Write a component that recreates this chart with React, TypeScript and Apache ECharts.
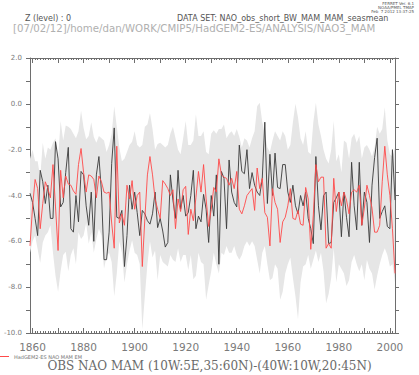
import { useEffect, useRef } from "react";
import * as echarts from "echarts";

const FIRST_YEAR = 1859;

// Observed NAO index (black line), 1859..2002
const obs = [
  -3.9,
  -4.3, -5.0, -5.75, -2.9, -3.4, -4.35, -3.55, -5.0, -5.0, -1.65,
  -2.4, -4.5, -4.3, -3.0, -1.9, -5.45, -5.6, -4.0, -5.15, -2.95,
  -3.1, -4.45, -5.3, -3.85, -6.0, -3.1, -2.3, -3.85, -6.8, -6.8,
  -5.6, -2.6, -1.05, -4.95, -5.0, -4.65, -7.1, -5.75, -3.55, -4.6,
  -3.85, -4.75, -5.75, -4.65, -4.8, -5.1, -5.25, -4.8, -3.85, -5.4,
  -5.0, -5.55, -6.25, -6.05, -3.1, -4.2, -5.0, -2.9, -4.6, -4.0,
  -4.9, -4.75, -4.0, -2.9, -5.45, -4.9, -5.15, -3.95, -4.6, -6.05,
  -4.0, -4.9, -3.1, -7.0, -2.95, -3.25, -5.45, -2.45, -3.85, -4.3,
  -4.5, -1.8, -2.95, -3.05, -2.0, -3.7, -3.0, -3.55, -3.85, -4.0,
  -3.25, -0.8, -4.35, -2.2, -4.0, -2.15, -3.65, -3.7, -2.65, -2.65,
  -3.85, -4.3, -3.55, -4.45, -4.8, -4.0, -4.45, -3.85, -5.0, -5.45,
  -6.1, -2.3, -4.45, -5.5, -4.0, -3.85, -6.1, -6.05, -4.3, -4.1,
  -3.85, -5.8, -3.85, -4.95, -5.8, -2.55, -4.45, -5.5, -2.55, -5.3,
  -3.85, -4.3, -6.05, -3.55, -2.35, -1.5, -5.0, -4.7, -4.45, -5.35,
  -5.45, -2.0, -4.2,
];

// HadGEM2-ES ensemble mean (red line)
const modelMean = [
  -6.2,
  -4.5, -3.3, -3.7, -5.45, -4.35, -3.4, -3.7, -4.1, -2.65, -4.5,
  -6.4, -2.9, -4.1, -3.15, -3.5, -3.55, -3.8, -3.95, -2.65, -1.95,
  -3.0, -3.85, -3.1, -3.15, -3.3, -4.1, -3.15, -3.4, -3.85, -3.9,
  -3.85, -5.2, -6.3, -1.85, -5.2, -4.8, -5.3, -3.55, -4.15, -3.35,
  -4.6, -4.0, -3.85, -7.1, -5.0, -3.1, -2.3, -3.1, -4.15, -4.6,
  -5.0, -3.35, -3.5, -3.7, -4.0, -3.75, -5.45, -4.15, -4.7, -3.75,
  -3.6, -5.7, -4.6, -5.1, -4.1, -2.95, -3.85, -2.65, -4.15, -5.35,
  -4.6, -3.65, -3.85, -2.4, -3.1, -3.2, -3.25, -3.55, -3.25, -3.7,
  -2.95, -4.6, -4.8, -4.45, -4.0, -3.85, -3.7, -4.65, -2.8, -3.7,
  -3.25, -4.75, -4.95, -6.2, -3.7, -4.3, -4.6, -6.05, -5.15, -4.95,
  -4.45, -3.7, -5.0, -5.05, -4.65, -5.25, -5.3, -3.65, -4.15, -6.35,
  -4.85, -2.65, -3.4, -3.2, -3.2, -6.3, -6.1, -6.3, -3.25, -4.7,
  -3.85, -4.45, -3.85, -4.2, -4.8, -3.85, -3.75, -3.85, -3.55, -5.3,
  -4.55, -3.55, -4.0, -4.55, -5.6, -5.6, -5.3, -3.4, -1.85, -3.1,
  -4.0, -5.45, -7.4,
];

// Ensemble spread, upper edge (grey band)
const spreadHigh = [
  -2.4,
  -2.0, -2.5, -2.5, -3.2, -1.7, -2.4, -1.9, -2.0, -1.7, -1.5,
  -2.4, -0.75, -1.6, -0.95, -1.0, -1.1, -1.3, -1.5, -1.2, -0.3,
  -1.05, -1.55, -1.4, -0.8, -1.45, -1.7, -1.4, -1.5, -1.6, -2.1,
  -1.8, -1.3, -0.1, -1.0, -1.9, -2.5, -2.4, -2.1, -1.8, -1.65,
  -1.2, -1.8, -1.9, -1.8, -1.0, -0.9, -0.4, -1.1, -2.0, -1.75,
  -1.7, -1.8, -1.9, -1.8, -1.3, -1.0, -1.5, -2.0, -2.2, -1.5,
  -0.75, -1.8, -1.8, -1.6, -0.45, -1.4, -1.4, -1.2, -2.1, -2.2,
  -1.3, -1.15, -1.3, -1.1, -1.1, -0.9, -1.5, -1.3, -1.2, -1.4,
  -1.1, -1.45, -1.9, -1.5, -1.6, -1.9, -1.5, -1.2, -0.1, 0.05,
  -0.8, -1.3, -1.9, -2.1, -1.6, -1.2, -1.4, -1.6, -1.2, -1.4,
  -2.0, -1.8, -0.8, 0.0, -0.6, -1.5, -1.8, -1.2, -2.1, -2.2,
  -0.8, 0.05, -0.9, -1.4, -2.0, -2.4, -2.6, -2.0, -0.75, -2.5,
  -2.2, -3.0, -1.6, -1.7, -2.4, -1.5, -1.3, -1.7, -1.4, -2.4,
  -1.9, -1.8, -2.0, -2.3, -1.9, -1.0, -1.3, -1.1, -0.15, -1.6,
  -2.2, -2.3, -1.9,
];

// Ensemble spread, lower edge (grey band)
const spreadLow = [
  -6.5,
  -6.0, -5.75, -6.35, -6.95, -6.05, -5.75, -5.6, -5.3, -6.5, -7.5,
  -8.2, -7.3, -6.6, -6.45, -7.3, -6.6, -6.3, -7.0, -5.6, -5.9,
  -5.75, -5.2, -6.1, -5.6, -6.5, -5.9, -5.45, -5.75, -7.2, -6.65,
  -6.5, -6.9, -8.4, -7.4, -6.0, -6.5, -7.8, -7.0, -6.4, -5.95,
  -6.5, -6.6, -7.0, -9.85, -8.4, -7.0, -6.0, -6.7, -6.4, -7.7,
  -6.6, -6.9, -7.0, -7.1, -6.6, -6.8, -6.9, -6.3, -6.9, -6.6,
  -6.6, -7.25, -6.6, -7.65, -7.5, -6.5, -6.9, -7.0, -8.55, -7.9,
  -7.3, -6.5, -7.0, -7.4, -6.5, -6.6, -6.2, -6.5, -6.5, -6.2,
  -6.6, -6.8, -6.6, -6.2, -6.0, -6.2, -6.0, -6.2, -6.8, -7.4,
  -6.5, -6.2, -7.0, -7.7, -7.6, -7.0, -7.2, -8.55, -8.2, -7.4,
  -7.0, -6.7, -7.6, -8.4, -9.4, -7.8, -7.1, -7.0, -6.6, -7.2,
  -6.8, -6.4, -6.9, -6.5, -7.3, -8.7, -8.3, -7.6, -6.3, -7.8,
  -7.0, -7.2, -7.4, -7.95, -7.7, -6.9, -6.6, -7.0, -7.3, -7.0,
  -7.7, -6.8, -7.2, -7.4, -8.1, -7.5, -7.0, -6.6, -6.3, -6.6,
  -7.1, -7.0, -7.8,
];

const years = obs.map((_, i) => String(FIRST_YEAR + i));
const Y_MIN = -10;
const Y_MAX = 2;

const headerLeft = "Z (level) : 0";
const headerRight = "DATA SET: NAO_obs_short_BW_MAM_MAM_seasmean";
const pathLine = "[07/02/12]/home/dan/WORK/CMIP5/HadGEM2-ES/ANALYSIS/NAO3_MAM";
const stampLines = ["FERRET Ver. 6.1", "NOAA/PMEL TMAP", "Feb  7 2012 13:37:25"];
const legendName = "HadGEM2-ES NAO MAM EM";
const titleText = "OBS NAO MAM (10W:5E,35:60N)-(40W:10W,20:45N)";

const AXIS_COLOR = "#6e6e6e";
const LABEL_COLOR = "#7a7a7a";

function xAxisDef(position: "top" | "bottom", major: boolean, showLine: boolean, showLabels: boolean) {
  return {
    type: "category",
    data: years,
    boundaryGap: false,
    position,
    axisLine: { show: showLine, onZero: false, lineStyle: { color: AXIS_COLOR, width: 1 } },
    axisTick: {
      show: true,
      inside: true,
      length: major ? 5 : 2,
      interval: major ? (_i: number, v: string) => Number(v) % 10 === 0 : 0,
      lineStyle: { color: AXIS_COLOR, width: 1 },
    },
    axisLabel: {
      show: showLabels,
      interval: (_i: number, v: string) => Number(v) % 20 === 0,
      margin: 8,
      fontSize: 10.5,
      fontFamily: "DejaVu Sans",
      color: LABEL_COLOR,
    },
    splitLine: { show: false },
  };
}

function yAxisDef(position: "left" | "right", showLabels: boolean) {
  return {
    type: "value",
    position,
    min: Y_MIN,
    max: Y_MAX,
    interval: 1,
    axisLine: { show: true, onZero: false, lineStyle: { color: AXIS_COLOR, width: 1 } },
    axisTick: { show: true, inside: false, length: 4, lineStyle: { color: AXIS_COLOR, width: 1 } },
    axisLabel: {
      show: showLabels,
      margin: 8,
      fontSize: 7,
      fontFamily: "DejaVu Sans",
      color: LABEL_COLOR,
      formatter: (v: number) => (v % 2 === 0 ? v.toFixed(1) : ""),
    },
    splitLine: { show: false },
  };
}

export default function App() {
  const ref = useRef<HTMLDivElement>(null);

  useEffect(() => {
    if (!ref.current) return;
    const chart = echarts.init(ref.current, undefined, { renderer: "svg" });
    const spreadWidth = spreadHigh.map((h, i) => h - spreadLow[i]);

    chart.setOption({
      animation: false,
      backgroundColor: "#ffffff",
      grid: { left: 30, right: 24, top: 58, bottom: 42, containLabel: false },
      title: {
        text: titleText,
        left: "center",
        top: 360,
        padding: 0,
        textStyle: { fontFamily: "DejaVu Serif", fontSize: 12, fontWeight: "normal", color: "#6a6a6a" },
      },
      legend: {
        data: [legendName],
        left: 0,
        top: 354,
        padding: 0,
        icon: "rect",
        itemWidth: 9,
        itemHeight: 1,
        itemGap: 4,
        textStyle: { fontSize: 5, lineHeight: 5, fontFamily: "DejaVu Sans", color: "#777", padding: [0, 0, 0, 0] },
      },
      graphic: [
        ...stampLines.map((t, i) => ({
          type: "text",
          right: 5,
          top: 1 + i * 4,
          style: { text: t, fontSize: 4, fontFamily: "DejaVu Sans", fill: "#555" },
        })),
        {
          type: "text",
          left: 25,
          top: 14,
          style: { text: headerLeft, fontSize: 8, fontFamily: "DejaVu Sans", fill: "#555" },
        },
        {
          type: "text",
          left: 177,
          top: 14,
          style: { text: headerRight, fontSize: 8, fontFamily: "DejaVu Sans", fill: "#555" },
        },
        {
          type: "text",
          left: 13,
          top: 23,
          style: { text: pathLine, fontSize: 10.2, fontFamily: "DejaVu Sans", fill: "#b0b0b0" },
        },
      ],
      xAxis: [
        xAxisDef("bottom", false, true, false),
        xAxisDef("bottom", true, false, true),
        xAxisDef("top", false, true, false),
        xAxisDef("top", true, false, false),
      ],
      yAxis: [yAxisDef("left", true), yAxisDef("right", false)],
      series: [
        {
          name: "spreadLow",
          type: "line",
          data: spreadLow,
          stack: "band",
          stackStrategy: "all",
          symbol: "none",
          silent: true,
          lineStyle: { opacity: 0, width: 0 },
        },
        {
          name: "spread",
          type: "line",
          data: spreadWidth,
          stack: "band",
          stackStrategy: "all",
          symbol: "none",
          silent: true,
          lineStyle: { opacity: 0, width: 0 },
          areaStyle: { color: "#e6e6e6", opacity: 1 },
        },
        {
          name: "OBS",
          type: "line",
          data: obs,
          symbol: "none",
          lineStyle: { color: "#3a3a3a", width: 0.9 },
        },
        {
          name: legendName,
          type: "line",
          data: modelMean,
          symbol: "none",
          itemStyle: { color: "#ff4a4a" },
          lineStyle: { color: "#ff4a4a", width: 0.9 },
        },
      ],
    });

    return () => chart.dispose();
  }, []);

  return (
    <div
      ref={ref}
      style={{ position: "absolute", left: 0, top: 0, width: 419, height: 375, background: "#fff" }}
    />
  );
}
